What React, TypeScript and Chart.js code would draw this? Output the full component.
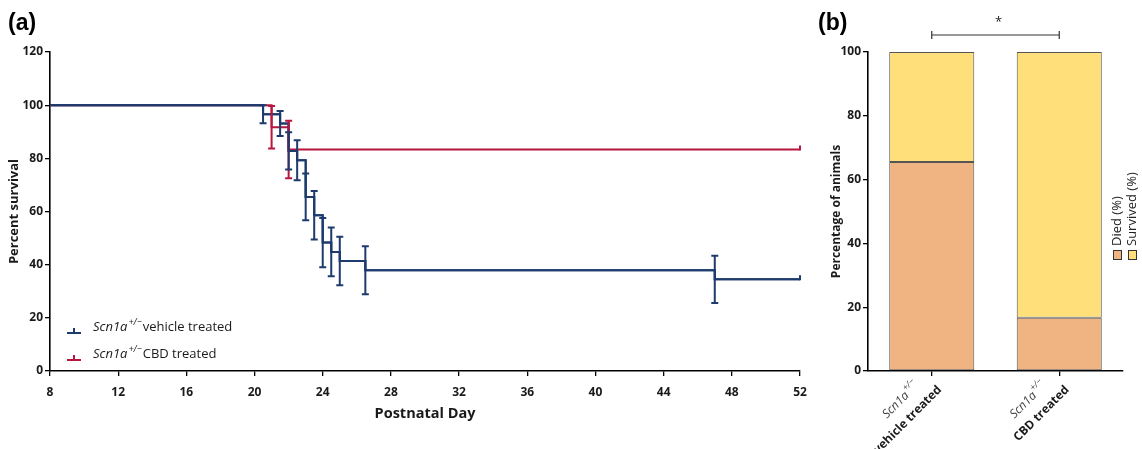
import React, { useEffect, useRef } from 'react';
import { Chart, registerables } from 'chart.js';

Chart.register(...registerables);

// ---------- data (panel a) ----------
const vehicleDays = [8, 20.5, 21.5, 22, 22.5, 23, 23.5, 24, 24.5, 25, 26.5, 47, 52];
const vehicleSurvival = [100, 96.6, 93.1, 82.8, 79.3, 65.5, 58.6, 48.3, 44.8, 41.4, 37.9, 34.5, 34.5];
const vehicleError = [0, 3.4, 4.7, 7.0, 7.5, 8.8, 9.1, 9.3, 9.2, 9.1, 9.0, 8.9, 0];

const cbdDays = [8, 21, 22, 52];
const cbdSurvival = [100, 91.7, 83.3, 83.3];
const cbdError = [0, 8.0, 10.8, 0];

const seriesNames = ['vehicle treated', 'CBD treated'];

// ---------- data (panel b) ----------
const groups = ['vehicle treated', 'CBD treated'];
const diedPct = [65.5, 16.7];
const survivedPct = [34.5, 83.3];
const stackLabels = ['Died (%)', 'Survived (%)'];

const FONT = '"Open Sans", "DejaVu Sans", sans-serif';
const BLUE = '#1d3b6d';
const RED = '#b8163f';
const ORANGE = '#efb482';
const YELLOW = '#ffdf7a';
const TXT = '#1a1a1a';

function drawScn(ctx: CanvasRenderingContext2D, x: number, y: number, size: number, color: string, measureOnly = false) {
  ctx.save();
  ctx.fillStyle = color;
  ctx.font = `italic ${size}px ${FONT}`;
  const w1 = ctx.measureText('Scn1a').width;
  if (!measureOnly) ctx.fillText('Scn1a', x, y);
  const sup = Math.round(size * 0.72);
  ctx.font = `italic ${sup}px ${FONT}`;
  const w2 = ctx.measureText('+/\u2212').width;
  if (!measureOnly) ctx.fillText('+/\u2212', x + w1 + 1, y - size * 0.45);
  ctx.restore();
  return w1 + w2 + 1;
}

const survivalPlugin = {
  id: 'survivalExtras',
  afterDatasetsDraw(chart: any) {
    const { ctx, scales } = chart;
    const x = scales.x, y = scales.y;
    // keep the vehicle curve on top where both curves share the 100 % level
    chart.getDatasetMeta(0).controller.draw();
    const sets = [
      { days: cbdDays, vals: cbdSurvival, err: cbdError, color: RED },
      { days: vehicleDays, vals: vehicleSurvival, err: vehicleError, color: BLUE },
    ];
    ctx.save();
    ctx.lineWidth = 2;
    sets.forEach((s) => {
      ctx.strokeStyle = s.color;
      s.days.forEach((d, i) => {
        const e = s.err[i];
        if (!e) return;
        const px = x.getPixelForValue(d);
        const top = y.getPixelForValue(s.vals[i] + e);
        const bot = y.getPixelForValue(s.vals[i] - e);
        ctx.beginPath();
        ctx.moveTo(px, top);
        ctx.lineTo(px, bot);
        ctx.moveTo(px - 3.5, top);
        ctx.lineTo(px + 3.5, top);
        ctx.moveTo(px - 3.5, bot);
        ctx.lineTo(px + 3.5, bot);
        ctx.stroke();
      });
      const last = s.days.length - 1;
      const ex = x.getPixelForValue(s.days[last]);
      const ey = y.getPixelForValue(s.vals[last]);
      ctx.beginPath();
      ctx.moveTo(ex, ey + 1);
      ctx.lineTo(ex, ey - 4);
      ctx.stroke();
    });
    ctx.restore();
  },
  afterDraw(chart: any) {
    const { ctx, chartArea } = chart;
    ctx.save();
    // panel label
    ctx.fillStyle = '#000';
    ctx.font = `bold 23px "Liberation Sans", Arial, sans-serif`;
    ctx.textBaseline = 'alphabetic';
    ctx.textAlign = 'left';
    ctx.fillText('(a)', 8, 30);
    // legend
    const colors = [BLUE, RED];
    const lx = chartArea.left + 17;
    const rows = [chartArea.bottom - 38, chartArea.bottom - 11];
    rows.forEach((ry, i) => {
      ctx.strokeStyle = colors[i];
      ctx.lineWidth = 2;
      ctx.beginPath();
      ctx.moveTo(lx, ry);
      ctx.lineTo(lx + 14, ry);
      ctx.moveTo(lx + 7, ry);
      ctx.lineTo(lx + 7, ry - 5);
      ctx.stroke();
      const tx = lx + 26;
      const ty = ry - 2;
      ctx.textBaseline = 'alphabetic';
      const w = drawScn(ctx, tx, ty, 13, TXT);
      ctx.fillStyle = TXT;
      ctx.font = `13px ${FONT}`;
      ctx.fillText(seriesNames[i], tx + w + 1, ty);
    });
    ctx.restore();
  },
};

const barPlugin = {
  id: 'barExtras',
  afterDraw(chart: any) {
    const { ctx, chartArea, scales } = chart;
    const x = scales.x;
    ctx.save();
    ctx.fillStyle = '#000';
    ctx.font = `bold 23px "Liberation Sans", Arial, sans-serif`;
    ctx.textBaseline = 'alphabetic';
    ctx.textAlign = 'left';
    ctx.fillText('(b)', 8, 30);

    // rotated category labels
    groups.forEach((g, i) => {
      const tx = x.getPixelForValue(i);
      ctx.save();
      ctx.translate(tx + 8, chartArea.bottom + 17);
      ctx.rotate(-Math.PI / 4);
      ctx.textBaseline = 'middle';
      ctx.textAlign = 'right';
      ctx.fillStyle = TXT;
      ctx.font = `bold 12px ${FONT}`;
      ctx.fillText(g, 0, 0);
      ctx.textAlign = 'left';
      const w = drawScn(ctx, 0, 0, 12, '#444', true);
      drawScn(ctx, -13 - w, -19, 12, '#444');
      ctx.restore();
    });

    // significance bracket
    const x1 = x.getPixelForValue(0);
    const x2 = x.getPixelForValue(1);
    const by = chartArea.top - 17;
    ctx.strokeStyle = '#333';
    ctx.lineWidth = 1.2;
    ctx.beginPath();
    ctx.moveTo(x1, by);
    ctx.lineTo(x2, by);
    ctx.moveTo(x1, by - 4);
    ctx.lineTo(x1, by + 4);
    ctx.moveTo(x2, by - 4);
    ctx.lineTo(x2, by + 4);
    ctx.stroke();
    ctx.fillStyle = '#222';
    ctx.font = `13px ${FONT}`;
    ctx.textAlign = 'center';
    ctx.textBaseline = 'middle';
    ctx.fillText('*', (x1 + x2) / 2 + 3, by - 13);

    // vertical legend
    const ds = chart.data.datasets;
    ds.forEach((d: any, i: number) => {
      const cx = chartArea.right - 6 + i * 15;
      const sy = chartArea.bottom - 121;
      ctx.fillStyle = d.backgroundColor;
      ctx.fillRect(cx - 4, sy, 8, 9);
      ctx.strokeStyle = '#333';
      ctx.lineWidth = 1;
      ctx.strokeRect(cx - 4 + 0.5, sy + 0.5, 8, 9);
      ctx.save();
      ctx.translate(cx, sy - 4);
      ctx.rotate(-Math.PI / 2);
      ctx.textAlign = 'left';
      ctx.textBaseline = 'middle';
      ctx.fillStyle = '#222';
      ctx.font = `13px ${FONT}`;
      ctx.fillText(d.label, 0, 0);
      ctx.restore();
    });
    ctx.restore();
  },
};

const tickFont = { family: FONT, size: 12, weight: 'bold' as const };

export default function App() {
  const leftRef = useRef<HTMLCanvasElement>(null);
  const rightRef = useRef<HTMLCanvasElement>(null);

  useEffect(() => {
    const left = new Chart(leftRef.current as HTMLCanvasElement, {
      type: 'line',
      data: {
        datasets: [
          {
            label: seriesNames[0],
            data: vehicleDays.map((d, i) => ({ x: d, y: vehicleSurvival[i] })),
            borderColor: BLUE,
            borderWidth: 2,
            stepped: true,
            pointRadius: 0,
            fill: false,
          },
          {
            label: seriesNames[1],
            data: cbdDays.map((d, i) => ({ x: d, y: cbdSurvival[i] })),
            borderColor: RED,
            borderWidth: 2,
            stepped: true,
            pointRadius: 0,
            fill: false,
          },
        ],
      },
      options: {
        animation: false,
        responsive: false,
        layout: { padding: { left: 2, right: 10, top: 52, bottom: 22 } },
        plugins: { legend: { display: false }, tooltip: { enabled: false } },
        scales: {
          x: {
            type: 'linear',
            min: 8,
            max: 52,
            ticks: { stepSize: 4, font: tickFont, color: TXT, padding: 9 },
            grid: { drawOnChartArea: false, color: '#000', tickLength: 5, lineWidth: 1.3 },
            border: { color: '#000', width: 1.6 },
            title: {
              display: true,
              text: 'Postnatal Day',
              color: TXT,
              font: { family: FONT, size: 14.5, weight: 'bold' },
              padding: { top: 4, bottom: 4 },
            },
            afterFit: (s: any) => {
              s.height = 56;
              s.paddingLeft = 8;
              s.paddingRight = 8;
            },
          },
          y: {
            min: 0,
            max: 120,
            ticks: { stepSize: 20, font: tickFont, color: TXT, padding: 2 },
            grid: { drawOnChartArea: false, color: '#000', tickLength: 5, lineWidth: 1.3 },
            border: { color: '#000', width: 1.6 },
            title: {
              display: true,
              text: 'Percent survival',
              color: TXT,
              font: { family: FONT, size: 13, weight: 'bold' },
              padding: { top: 4, bottom: 4 },
            },
            afterFit: (s: any) => {
              s.width = 48;
            },
          },
        },
      },
      plugins: [survivalPlugin],
    });

    const right = new Chart(rightRef.current as HTMLCanvasElement, {
      type: 'bar',
      data: {
        labels: groups,
        datasets: [
          {
            label: stackLabels[0],
            data: diedPct,
            backgroundColor: ORANGE,
            borderColor: '#555',
            borderWidth: 1,
            borderSkipped: false,
            categoryPercentage: 1,
            barPercentage: 0.667,
          },
          {
            label: stackLabels[1],
            data: survivedPct,
            backgroundColor: YELLOW,
            borderColor: '#555',
            borderWidth: 1,
            borderSkipped: false,
            categoryPercentage: 1,
            barPercentage: 0.667,
          },
        ],
      },
      options: {
        animation: false,
        responsive: false,
        layout: { padding: { left: 15, right: 19, top: 52, bottom: 24 } },
        plugins: { legend: { display: false }, tooltip: { enabled: false } },
        scales: {
          x: {
            stacked: true,
            ticks: { callback: () => '', font: tickFont },
            grid: { drawOnChartArea: false, offset: false, color: '#000', tickLength: 5, lineWidth: 1.3 },
            border: { color: '#000', width: 1.6 },
            afterFit: (s: any) => {
              s.height = 54;
            },
          },
          y: {
            stacked: true,
            min: 0,
            max: 100,
            ticks: { stepSize: 20, font: tickFont, color: TXT, padding: 2 },
            grid: { drawOnChartArea: false, color: '#000', tickLength: 5, lineWidth: 1.3 },
            border: { color: '#000', width: 1.6 },
            title: {
              display: true,
              text: 'Percentage of animals',
              color: TXT,
              font: { family: FONT, size: 12, weight: 'bold' },
              padding: { top: 4, bottom: 4 },
            },
            afterFit: (s: any) => {
              s.width = 43;
            },
          },
        },
      },
      plugins: [barPlugin],
    });

    return () => {
      left.destroy();
      right.destroy();
    };
  }, []);

  return (
    <div style={{ position: 'fixed', left: 0, top: 0, width: 1142, height: 449, background: '#fff' }}>
      <canvas
        ref={leftRef}
        width={810}
        height={449}
        style={{ position: 'absolute', left: 0, top: 0, width: 810, height: 449 }}
      />
      <canvas
        ref={rightRef}
        width={332}
        height={449}
        style={{ position: 'absolute', left: 810, top: 0, width: 332, height: 449 }}
      />
    </div>
  );
}
